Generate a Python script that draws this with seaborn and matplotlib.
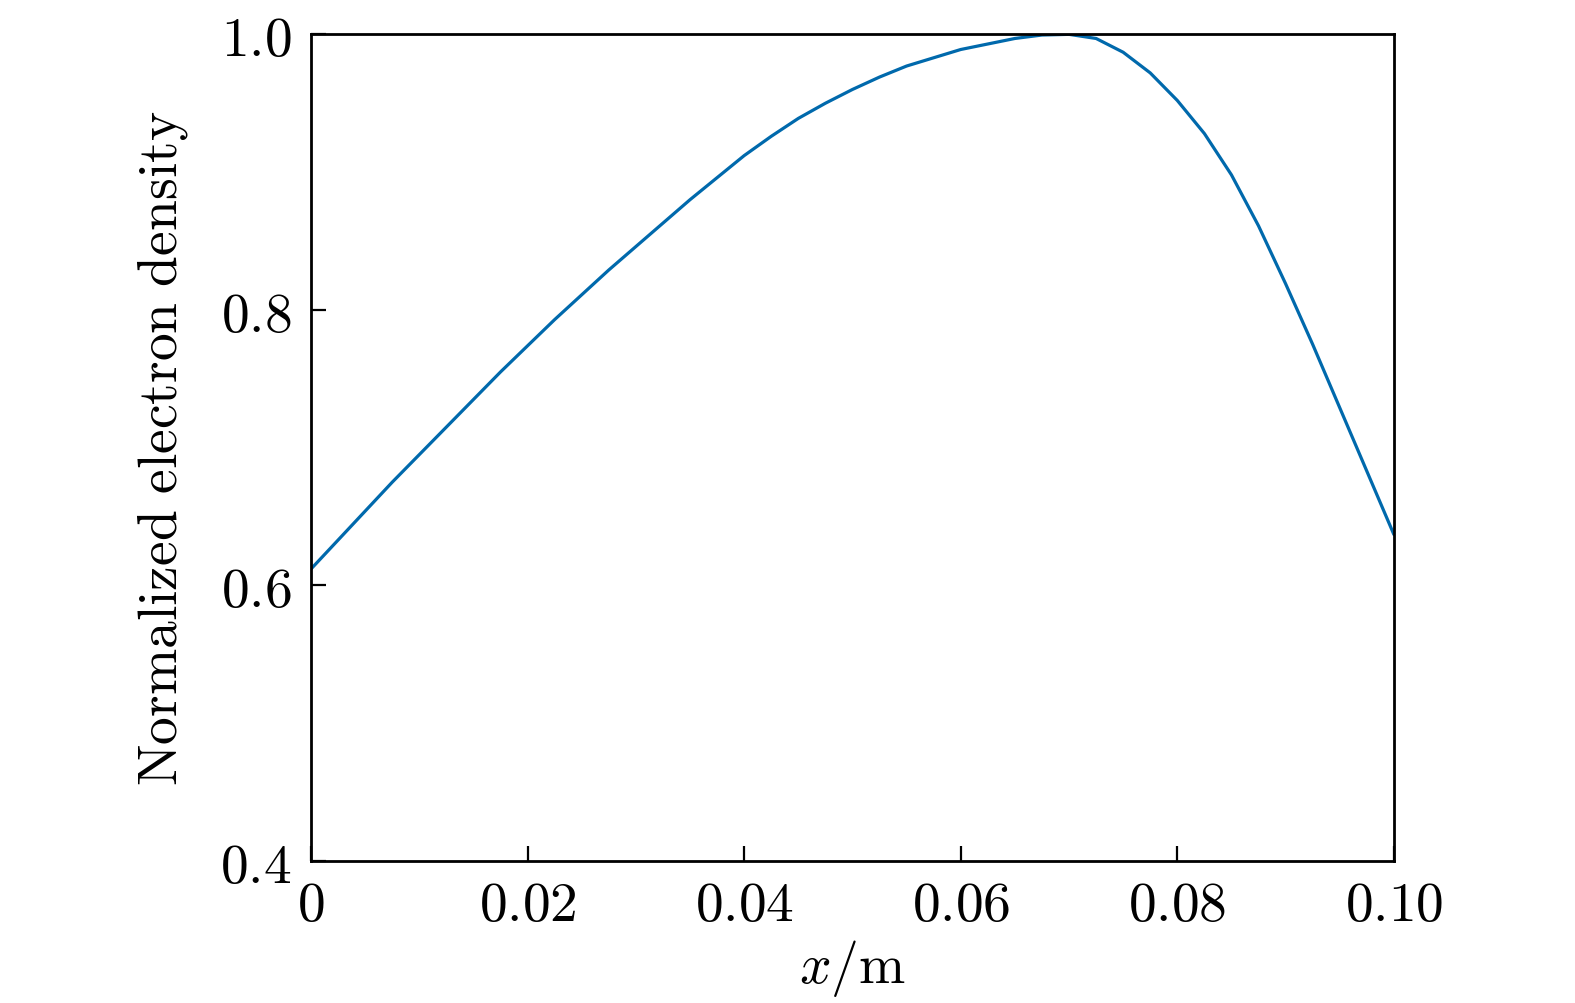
import matplotlib
matplotlib.use("Agg")
import matplotlib.pyplot as plt
import seaborn as sns
import pandas as pd
from matplotlib.ticker import FuncFormatter

# values
x_pos = [0.0, 0.0025, 0.005, 0.0075, 0.01, 0.0125, 0.015, 0.0175, 0.02, 0.0225,
         0.025, 0.0275, 0.03, 0.0325, 0.035, 0.0375, 0.04, 0.0425, 0.045, 0.0475,
         0.05, 0.0525, 0.055, 0.0575, 0.06, 0.0625, 0.065, 0.0675, 0.07, 0.0725,
         0.075, 0.0775, 0.08, 0.0825, 0.085, 0.0875, 0.09, 0.0925, 0.095, 0.0975,
         0.10]
density = [0.612, 0.633, 0.654, 0.675, 0.695, 0.715, 0.735, 0.755, 0.774, 0.793,
           0.811, 0.829, 0.846, 0.863, 0.880, 0.896, 0.912, 0.926, 0.939, 0.950,
           0.960, 0.969, 0.977, 0.983, 0.989, 0.993, 0.997, 0.9995, 1.000, 0.997,
           0.987, 0.972, 0.952, 0.928, 0.898, 0.861, 0.819, 0.775, 0.729, 0.683,
           0.637]
x_ticks = [0, 0.02, 0.04, 0.06, 0.08, 0.10]
x_tick_labels = ["0", "0.02", "0.04", "0.06", "0.08", "0.10"]
y_ticks = [0.4, 0.6, 0.8, 1.0]

df = pd.DataFrame({"x": x_pos, "n": density})

sns.set_style("ticks")
plt.rcParams["mathtext.fontset"] = "cm"
plt.rcParams["text.color"] = "black"
plt.rcParams["axes.labelcolor"] = "black"

fig = plt.figure(figsize=(15.75, 10.04), dpi=100)
ax = fig.add_axes([0.1975, 0.1414, 0.6875, 0.8234])
sns.lineplot(data=df, x="x", y="n", ax=ax, color="#0069AC", linewidth=2.3)

ax.set_xlim(0, 0.10)
ax.set_ylim(0.4, 1.0)
ax.set_xticks(x_ticks)
ax.set_xticklabels(["$" + t + "$" for t in x_tick_labels])
ax.set_yticks(y_ticks)
ax.yaxis.set_major_formatter(FuncFormatter(lambda v, p: f"${v:.1f}$"))

ax.tick_params(direction="in", length=10.5, width=1.6, labelsize=40,
               top=False, right=False, colors="black")
ax.tick_params(axis="y", pad=14)
ax.tick_params(axis="x", pad=12)
for s in ax.spines.values():
    s.set_linewidth(2.0)
    s.set_color("black")

ax.set_xlabel(r"$x/\mathrm{m}$", fontsize=40, labelpad=4)
ax.set_ylabel(r"$\mathrm{Normalized\ electron\ density}$", fontsize=40, labelpad=22)

plt.savefig("out.png", dpi=100)
plt.close()
